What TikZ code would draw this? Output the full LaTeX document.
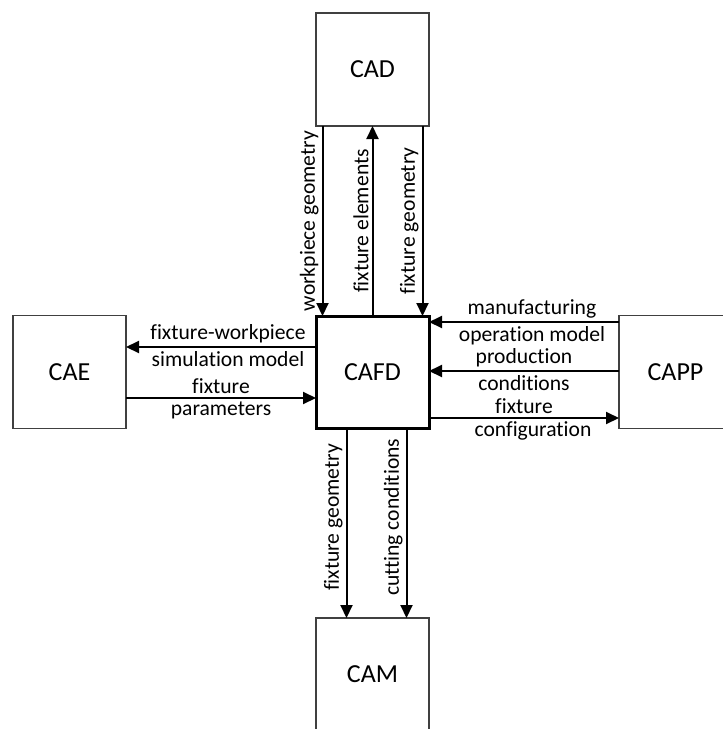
\documentclass[tikz,border=0pt]{standalone}
\usepackage{fontspec}
\setmainfont{Carlito}[Ligatures={NoCommon,NoContextual}, RawFeature={-liga;-clig;-calt}]
\usetikzlibrary{arrows.meta,positioning}

\tikzset{
  box/.style={draw=black!75, line width=1.2pt, minimum width=113pt, minimum height=113pt,
    outer sep=0pt, font=\fontsize{26}{30}\selectfont},
  flow/.style={line width=2pt, -{Triangle[length=13pt,width=12pt]}},
  lbl/.style={font=\fontsize{21.6}{25}\selectfont, inner sep=3pt},
  vlbl/.style={lbl, midway, rotate=90, anchor=south}
}

\begin{document}
\begin{tikzpicture}[x=1pt, y=-1pt]
  \useasboundingbox (0,0) rectangle (723,729);
  \clip (0,0) rectangle (723,729);

  \node [box, line width=3pt, draw=black, minimum height=112pt] (cafd) at (372.5,372) {CAFD};
  \node [box, above=190pt of cafd] (cad) {CAD};
  \node [box, left=190pt of cafd] (cae) {CAE};
  \node [box, right=190pt of cafd] (capp) {CAPP};
  \node [box, below=190pt of cafd] (cam) {CAM};

  % CAD <-> CAFD
  \draw [flow] ([xshift=-50pt]cad.south -| cafd.north) -- ([xshift=-50pt]cafd.north)
    node [vlbl] {workpiece geometry};
  \draw [flow] (cafd.north) -- (cad.south -| cafd.north)
    node [vlbl] {fixture elements};
  \draw [flow] ([xshift=50pt]cad.south -| cafd.north) -- ([xshift=50pt]cafd.north)
    node [vlbl] {fixture geometry};

  % CAE <-> CAFD
  \draw [flow] ([yshift=25pt]cafd.west) -- ([yshift=25pt]cae.east)
    node [lbl, midway, above, xshift=7pt] {fixture-workpiece}
    node [lbl, midway, below, xshift=7pt] {simulation model};
  \draw [flow] ([yshift=-26pt]cae.east) -- ([yshift=-26pt]cafd.west)
    node [lbl, midway, above] {fixture}
    node [lbl, midway, below] {parameters};

  % CAPP <-> CAFD
  \draw [flow] ([yshift=50pt]capp.west) -- ([yshift=50pt]cafd.east)
    node [lbl, midway, above, xshift=8pt] {manufacturing}
    node [lbl, midway, below, xshift=8pt] {operation model};
  \draw [flow] ([yshift=1pt]capp.west) -- ([yshift=1pt]cafd.east)
    node [lbl, midway, above] {production}
    node [lbl, midway, below] {conditions};
  \draw [flow] ([yshift=-46pt]cafd.east) -- ([yshift=-46pt]capp.west)
    node [lbl, midway, above] {fixture}
    node [lbl, midway, below, xshift=9pt] {configuration};

  % CAFD -> CAM
  \draw [flow] ([xshift=-26pt]cafd.south) -- ([xshift=-26pt]cam.north)
    node [vlbl, pos=0.47] {fixture geometry};
  \draw [flow] ([xshift=34pt]cafd.south) -- ([xshift=34pt]cam.north)
    node [vlbl, pos=0.47] {cutting conditions};
\end{tikzpicture}
\end{document}
